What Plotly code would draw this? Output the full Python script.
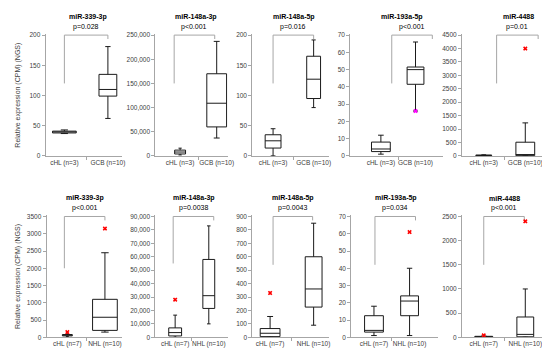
import plotly.graph_objects as go

# ---------------- data ----------------
titles = ["miR-339-3p", "miR-148a-3p", "miR-148a-5p", "miR-193a-5p", "miR-4488",
          "miR-339-3p", "miR-148a-3p", "miR-148a-5p", "miR-193a-5p", "miR-4488"]
p_values = ["p=0.028", "p<0.001", "p=0.016", "p<0.001", "p=0.01",
            "p<0.001", "p=0.0038", "p=0.0043", "p=0.034", "p<0.001"]
cat_top = ["cHL (n=3)", "GCB (n=10)"]
cat_bottom = ["cHL (n=7)", "NHL (n=10)"]
y_max = [200, 250000, 200, 70, 4500, 3500, 90000, 900, 70, 2500]
y_step = [50, 50000, 50, 10, 500, 500, 10000, 100, 10, 500]
y_comma = [False, True, False, False, False, False, True, False, False, False]

# group 1 (cHL)
chl_low = [37, 2000, 0, 1, 0, 20, 0, 0, 1, 0]
chl_q1 = [38, 4000, 13, 2.5, 10, 40, 1000, 5, 3, 5]
chl_med = [40, 8000, 25, 4, 20, 60, 3500, 30, 4, 10]
chl_q3 = [41, 12000, 35, 8, 30, 80, 7000, 65, 12.5, 20]
chl_high = [43, 16000, 45, 12, 40, 100, 16500, 155, 18, 25]

# group 2 (GCB / NHL)
g2_low = [62, 37000, 80, 26, 0, 150, 10000, 90, 1, 0]
g2_q1 = [99, 60000, 95, 41.5, 10, 200, 21500, 225, 12.5, 10]
g2_med = [110, 109000, 127, 50, 50, 580, 31000, 360, 21, 60]
g2_q3 = [135, 170000, 165, 51.5, 510, 1100, 58000, 600, 24, 420]
g2_high = [181, 237000, 192, 66, 1230, 2450, 83000, 850, 40, 1000]

# outliers
outlier_panel = [3, 4, 5, 5, 6, 7, 8, 9, 9]
outlier_group = [1, 1, 0, 1, 0, 0, 1, 0, 1]
outlier_value = [26, 4000, 150, 3150, 28000, 330, 61, 40, 2400]

# significance bracket: lower end of left leg
bracket_low = [120, 150000, 120, 42, 2700, 2000, 55000, 540, 42, 1500]

# ---------------- layout (pixels) ----------------
W, H = 550, 352
axis_left = [38, 149, 247, 346, 459, 39, 149, 247, 347, 459]
axis_right = [115, 222, 325, 440, 548, 115, 222, 325, 435, 548]
cat0_px = [57, 174, 268, 377, 481, 60, 169, 265, 370, 481]
cat1_px = [101, 211, 309, 412, 523, 98, 203, 309, 406, 523]
box_w0 = [24, 11, 16, 19, 16, 10, 13, 20, 19, 18]
box_w1 = [18, 20, 14, 17, 19, 25, 12, 17, 18, 17]
br_left_px = [57, 168, 268, 388, 494, 57, 167, 268, 371, 481]
br_right_px = [101, 209, 309, 429, 536, 98, 208, 308, 412, 522]
title_px = [81, 190, 289, 398, 516, 78, 188, 288, 392, 502]
row_top = [24, 208]
row_bot = [148, 332]

font_family = "Liberation Sans, Arial, sans-serif"
axis_gray = "#a6a6a6"
text_col = "#404040"

fig = go.Figure()
layout = dict(
    width=W, height=H, margin=dict(l=0, r=0, t=0, b=0),
    paper_bgcolor="white", plot_bgcolor="white", showlegend=False,
    boxmode="overlay", font=dict(family=font_family, size=7, color=text_col),
)
annotations = []

for i in range(10):
    row = 0 if i < 5 else 1
    n = i + 1
    xa = "x" if n == 1 else f"x{n}"
    ya = "y" if n == 1 else f"y{n}"
    s = cat1_px[i] - cat0_px[i]
    a = (axis_left[i] - cat0_px[i]) / s
    b = (axis_right[i] - cat0_px[i]) / s
    cats = cat_top if row == 0 else cat_bottom
    ymx = y_max[i]

    layout["xaxis" if n == 1 else f"xaxis{n}"] = dict(
        domain=[axis_left[i] / W, axis_right[i] / W], range=[a, b],
        anchor=ya, showline=True, linecolor=axis_gray, linewidth=1,
        showgrid=False, zeroline=False, tickvals=[0, 1], ticktext=cats,
        ticks="", tickfont=dict(size=6.5, color=text_col),
        minor=dict(tickmode="array", tickvals=[0.5], ticks="outside",
                   ticklen=3, tickcolor=axis_gray, showgrid=False),
        fixedrange=True,
    )
    tv = list(range(0, ymx + 1, y_step[i]))
    layout["yaxis" if n == 1 else f"yaxis{n}"] = dict(
        domain=[1 - row_bot[row] / H, 1 - row_top[row] / H],
        range=[0, ymx * 1.012], anchor=xa, showline=True, linecolor=axis_gray,
        linewidth=1, showgrid=False, zeroline=False, tickvals=tv,
        ticktext=[f"{v:,}" if y_comma[i] else f"{v}" for v in tv],
        ticks="outside", ticklen=3, tickcolor=axis_gray,
        tickfont=dict(size=6.5, color=text_col), fixedrange=True,
    )

    for g, (lo, q1, md, q3, hi, w) in enumerate([
        (chl_low, chl_q1, chl_med, chl_q3, chl_high, box_w0),
        (g2_low, g2_q1, g2_med, g2_q3, g2_high, box_w1),
    ]):
        fig.add_trace(go.Box(
            x=[g], q1=[q1[i]], median=[md[i]], q3=[q3[i]],
            lowerfence=[lo[i]], upperfence=[hi[i]],
            width=w[i] / s, whiskerwidth=0.3, boxpoints=False,
            fillcolor="white", line=dict(color="#1a1a1a", width=1),
            xaxis=xa, yaxis=ya, hoverinfo="skip",
        ))

    # bracket
    bl = (br_left_px[i] - cat0_px[i]) / s
    brr = (br_right_px[i] - cat0_px[i]) / s
    drop = ymx * 4 / 124
    fig.add_trace(go.Scatter(
        x=[bl, bl, brr, brr], y=[bracket_low[i], ymx, ymx, ymx - drop],
        mode="lines", line=dict(color="#a6a6a6", width=1),
        xaxis=xa, yaxis=ya, hoverinfo="skip",
    ))

    ty = row_top[row] - 17
    annotations.append(dict(
        x=title_px[i] / W, y=1 - ty / H, xref="paper", yref="paper",
        text=f"<b>{titles[i]}</b>", showarrow=False, xanchor="center",
        yanchor="middle", font=dict(size=7, color="#000000"),
    ))
    pmid = (br_left_px[i] + br_right_px[i]) / 2
    annotations.append(dict(
        x=pmid / W, y=1 - (ty + 10) / H, xref="paper", yref="paper",
        text=p_values[i], showarrow=False, xanchor="center",
        yanchor="middle", font=dict(size=7, color="#000000"),
    ))

# outliers
for k in range(len(outlier_panel)):
    n = outlier_panel[k] + 1
    xa = "x" if n == 1 else f"x{n}"
    ya = "y" if n == 1 else f"y{n}"
    col = "#ff00ff" if outlier_panel[k] == 3 else "#ff0000"
    fig.add_trace(go.Scatter(
        x=[outlier_group[k]], y=[outlier_value[k]], mode="markers",
        marker=dict(symbol="x", size=4, color=col),
        xaxis=xa, yaxis=ya, hoverinfo="skip", cliponaxis=False,
    ))

for row in range(2):
    cy = (row_top[row] + row_bot[row]) / 2
    annotations.append(dict(
        x=10 / W, y=1 - cy / H, xref="paper", yref="paper",
        text="Relative expression (CPM) (NGS)", showarrow=False,
        textangle=-90, xanchor="center", yanchor="middle",
        font=dict(size=7, color=text_col),
    ))

layout["annotations"] = annotations
fig.update_layout(**layout)
fig.write_html("out.html")
